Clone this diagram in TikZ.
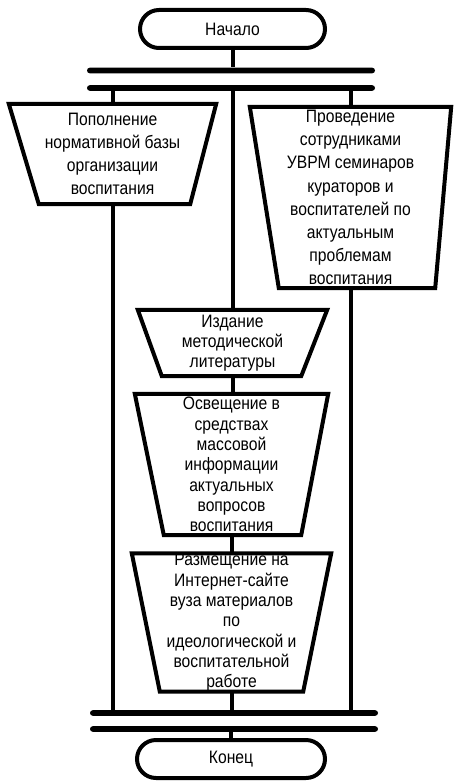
\documentclass[tikz,border=0pt]{standalone}
\usepackage{fontspec}
\setmainfont[FakeStretch=0.87]{Liberation Sans}
\usetikzlibrary{positioning}
\tikzset{
  term/.style={draw,line width=4pt,rounded corners=19pt,minimum width=#1,minimum height=38pt,inner sep=0,font=\fontsize{18}{20}\selectfont},
  box/.style={line width=4pt,line join=miter},
  boxtext/.style={inner sep=0,align=center,minimum width=#1},
  big text/.style={font=\fontsize{18}{23.2}\selectfont},
  small text/.style={font=\fontsize{18}{20.3}\selectfont},
  bar/.style={fill=black,rounded corners=2.8pt,minimum width=288pt,minimum height=5.6pt,inner sep=0},
  connect/.style={line width=4pt}
}
% trapezium drawn round a text node: #1=node, #2=left inset, #3=right inset
\newcommand\trapbox[3]{\draw[box] (#1.north west) -- (#1.north east) -- ([xshift=-#3]#1.south east) -- ([xshift=#2]#1.south west) -- cycle;}

\begin{document}
\begin{tikzpicture}[x=1pt,y=-1pt]
\useasboundingbox (0,0) rectangle (455,783);
%
% start, fork bars
\node[term=185pt] (start) at (232.5,29) {Начало};
\node[bar] (bar1) at (231,70.5) {};
\node[bar] (bar2) at (231,88) {};
%
% parallel branches
\node[boxtext=207pt,big text,minimum height=100pt] (norm) at (112.5,154) {Пополнение\\нормативной базы\\организации\\воспитания};
\trapbox{norm}{30pt}{26pt}
\node[boxtext=201pt,big text,minimum height=181pt] (sem) at (350.5,197.5) {Проведение\\сотрудниками\\УВРМ семинаров\\кураторов и\\воспитателей по\\актуальным\\проблемам\\воспитания};
\trapbox{sem}{29pt}{16pt}
\node[boxtext=189pt,small text,minimum height=66pt] (lit) at (232.5,343) {Издание\\методической\\литературы};
\trapbox{lit}{24pt}{26pt}
\node[boxtext=193pt,small text,minimum height=141pt] (smi) at (231.5,464.5) {Освещение в\\средствах\\массовой\\информации\\актуальных\\вопросов\\воспитания};
\trapbox{smi}{29pt}{27pt}
\node[boxtext=199pt,small text,minimum height=137pt] (site) at (231.5,622.5) {Размещение на\\Интернет-сайте\\вуза материалов\\по\\идеологической и\\воспитательной\\работе};
\trapbox{site}{28pt}{28pt}
%
% join bars, end
\node[bar] (bar3) at (234,713) {};
\node[bar] (bar4) at (234,729) {};
\node[term=188pt] (end) at (231,759) {Конец};
%
\draw[connect] (start.south) -- (start.south |- bar1.north);
\draw[connect] (bar2.south -| norm.north) -- (norm.north);
\draw[connect] (bar2.south -| sem.north) -- (sem.north);
\draw[connect] (bar2.south -| lit.north) -- (lit.north);
\draw[connect] (lit.south) -- (lit.south |- smi.north);
\draw[connect] (smi.south) -- (smi.south |- site.north);
\draw[connect] (site.south) -- (site.south |- bar3.north);
\draw[connect] (norm.south) -- (norm.south |- bar3.north);
\draw[connect] (sem.south) -- (sem.south |- bar3.north);
\draw[connect] (bar4.south -| end.north) -- (end.north);
\end{tikzpicture}
\end{document}
